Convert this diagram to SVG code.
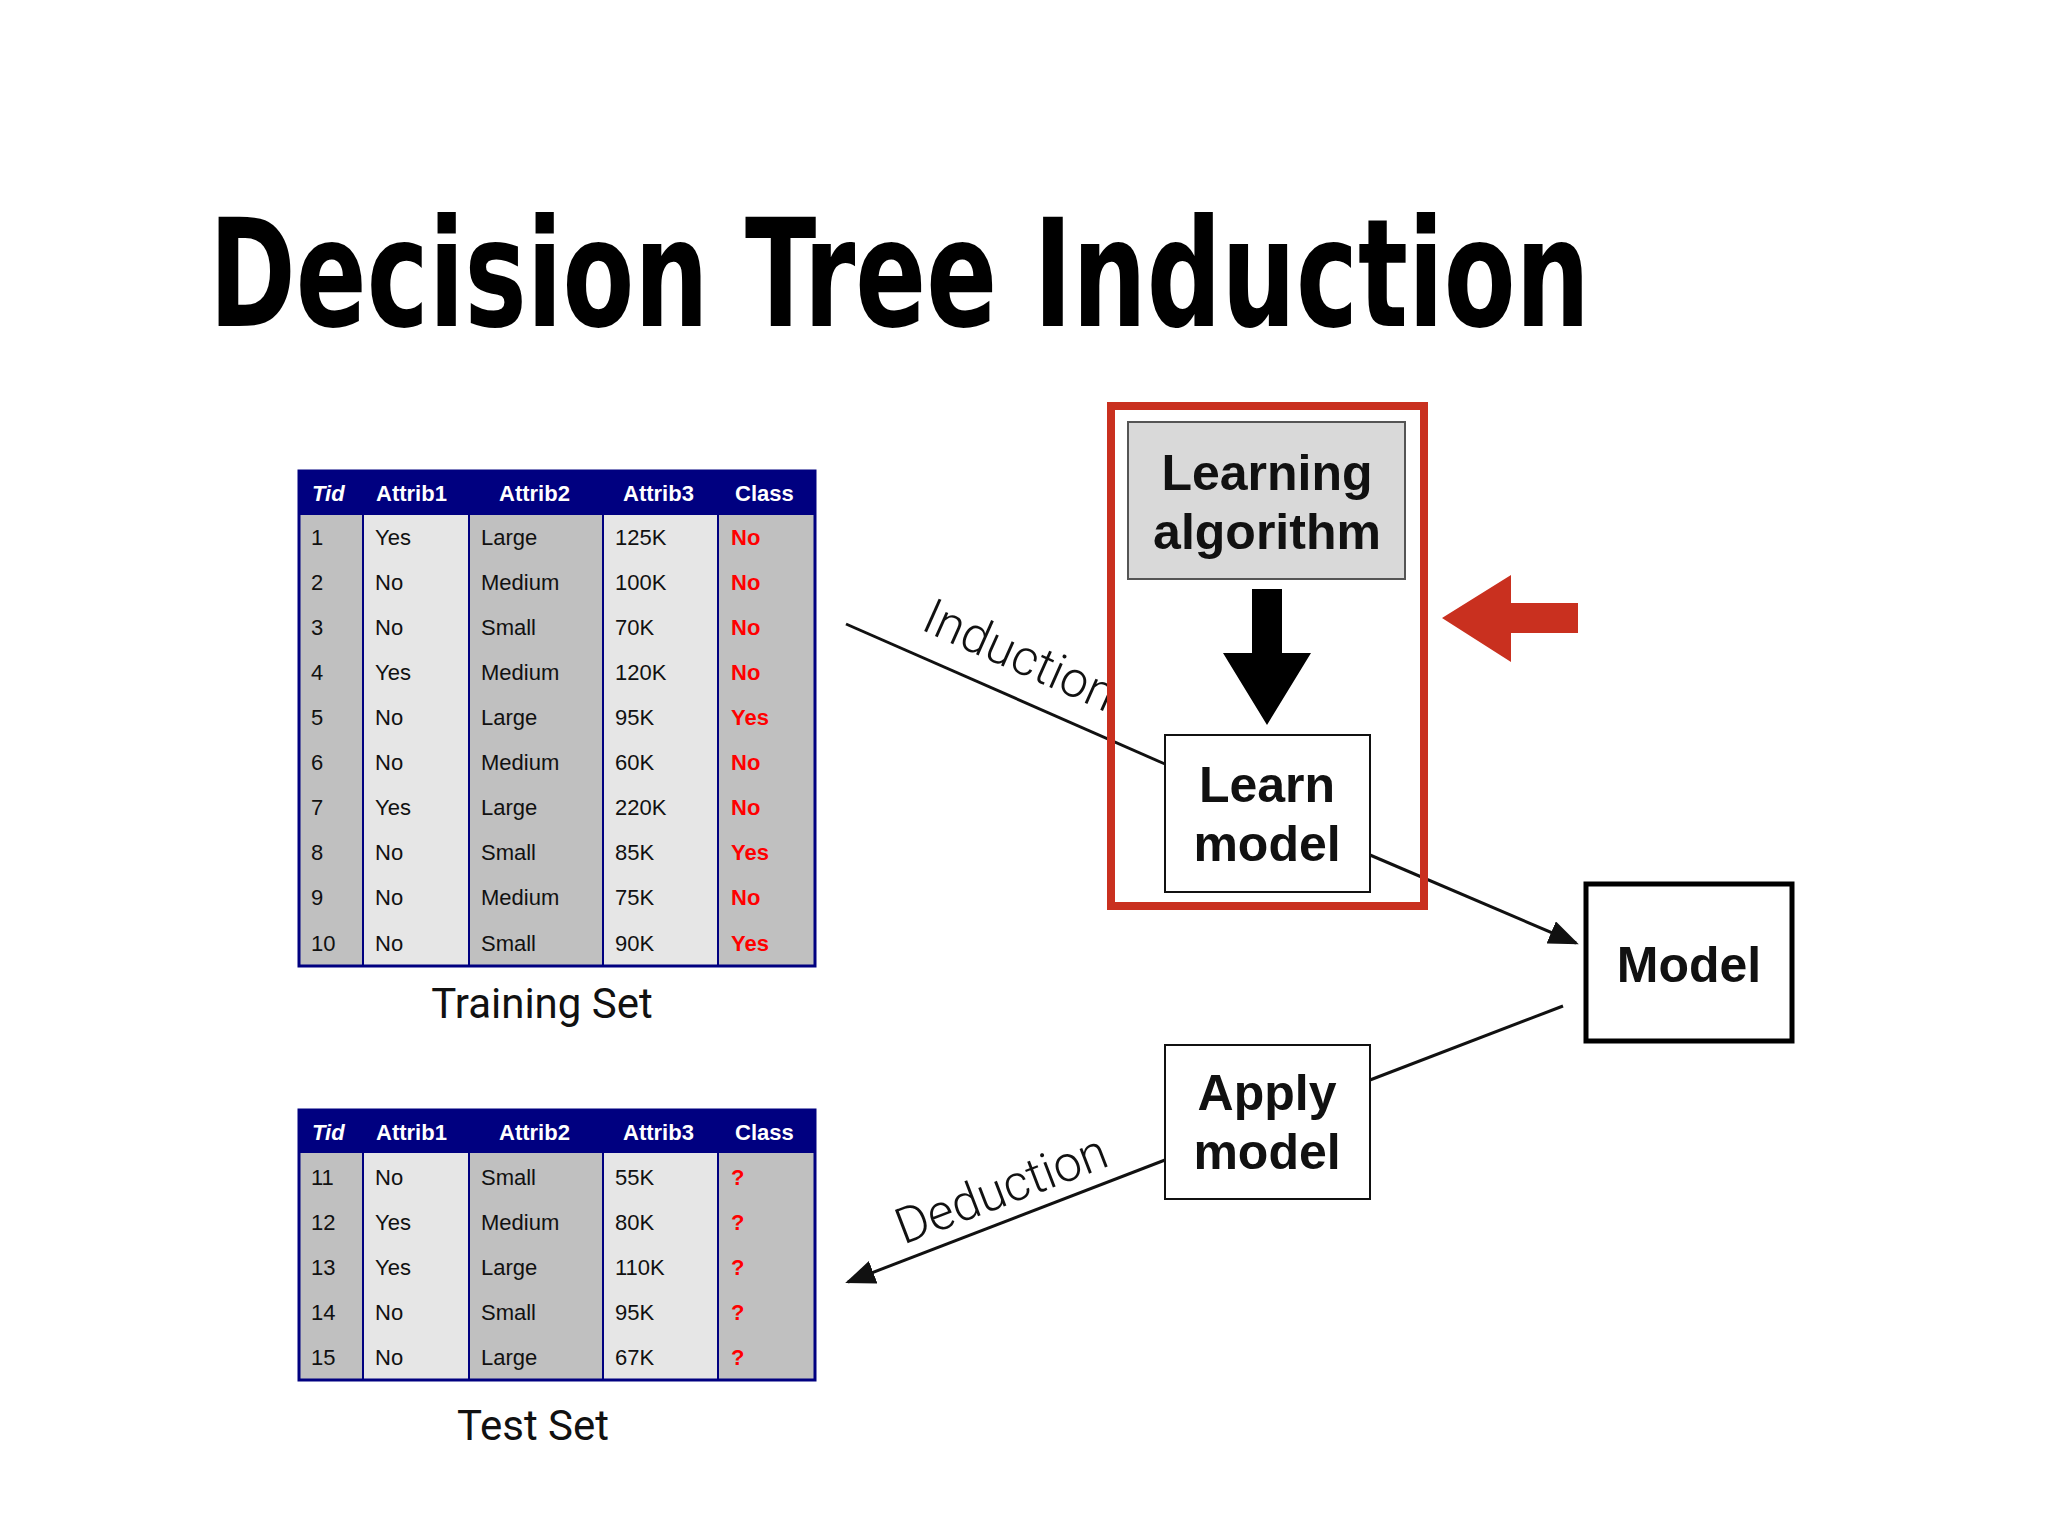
<svg xmlns="http://www.w3.org/2000/svg" width="2048" height="1536" viewBox="0 0 2048 1536">
<defs>
<style>
.h{font-family:"Liberation Sans",Arial,sans-serif;font-size:22px;font-weight:bold;fill:#fff}
.d{font-family:"Liberation Sans",Arial,sans-serif;font-size:22px;fill:#111}
.r{font-family:"Liberation Sans",Arial,sans-serif;font-size:22px;font-weight:bold;fill:#f00}
.g{fill:#c0c0c0}.l{fill:#e6e6e6}
.lbl{font-family:Roboto,"Liberation Sans",sans-serif;font-size:42px;fill:#111;text-anchor:middle}
.bx{font-family:"Liberation Sans",Arial,sans-serif;font-size:50px;font-weight:bold;fill:#111;text-anchor:middle}
.ln{stroke:#111;stroke-width:3;fill:none}
</style>
<marker id="ah" markerWidth="10" markerHeight="8" refX="9" refY="4" orient="auto" markerUnits="strokeWidth"><path d="M0,0L10,4L0,8z" fill="#111"/></marker>
</defs>
<rect width="2048" height="1536" fill="#fff"/>
<text x="209" y="326" font-family="DejaVu Sans Condensed,DejaVu Sans,sans-serif" font-weight="bold" font-size="150" textLength="1381" lengthAdjust="spacingAndGlyphs" fill="#000">Decision Tree Induction</text>

<g id="training">
<rect x="299" y="471" width="516" height="44" fill="#000080"/>
<rect x="299" y="515" width="64" height="451" class="g"/>
<rect x="363" y="515" width="106" height="451" class="l"/>
<rect x="469" y="515" width="134" height="451" class="g"/>
<rect x="603" y="515" width="115" height="451" class="l"/>
<rect x="718" y="515" width="97" height="451" class="g"/>
<path d="M363,515V966M469,515V966M603,515V966M718,515V966" stroke="#000080" stroke-width="2"/>
<rect x="299" y="471" width="516" height="495" fill="none" stroke="#000080" stroke-width="3"/>
<text class="h" y="501"><tspan x="312" font-style="italic">Tid</tspan><tspan x="376">Attrib1</tspan><tspan x="499">Attrib2</tspan><tspan x="623">Attrib3</tspan><tspan x="735">Class</tspan></text>
<g class="d">
<text y="545"><tspan x="311">1</tspan><tspan x="375">Yes</tspan><tspan x="481">Large</tspan><tspan x="615">125K</tspan></text>
<text y="590"><tspan x="311">2</tspan><tspan x="375">No</tspan><tspan x="481">Medium</tspan><tspan x="615">100K</tspan></text>
<text y="635"><tspan x="311">3</tspan><tspan x="375">No</tspan><tspan x="481">Small</tspan><tspan x="615">70K</tspan></text>
<text y="680"><tspan x="311">4</tspan><tspan x="375">Yes</tspan><tspan x="481">Medium</tspan><tspan x="615">120K</tspan></text>
<text y="725"><tspan x="311">5</tspan><tspan x="375">No</tspan><tspan x="481">Large</tspan><tspan x="615">95K</tspan></text>
<text y="770"><tspan x="311">6</tspan><tspan x="375">No</tspan><tspan x="481">Medium</tspan><tspan x="615">60K</tspan></text>
<text y="815"><tspan x="311">7</tspan><tspan x="375">Yes</tspan><tspan x="481">Large</tspan><tspan x="615">220K</tspan></text>
<text y="860"><tspan x="311">8</tspan><tspan x="375">No</tspan><tspan x="481">Small</tspan><tspan x="615">85K</tspan></text>
<text y="905"><tspan x="311">9</tspan><tspan x="375">No</tspan><tspan x="481">Medium</tspan><tspan x="615">75K</tspan></text>
<text y="951"><tspan x="311">10</tspan><tspan x="375">No</tspan><tspan x="481">Small</tspan><tspan x="615">90K</tspan></text>
</g>
<g class="r">
<text x="731" y="545">No</text><text x="731" y="590">No</text><text x="731" y="635">No</text><text x="731" y="680">No</text><text x="731" y="725">Yes</text><text x="731" y="770">No</text><text x="731" y="815">No</text><text x="731" y="860">Yes</text><text x="731" y="905">No</text><text x="731" y="951">Yes</text>
</g>
<text class="lbl" x="542" y="1018">Training Set</text>
</g>

<g id="test">
<rect x="299" y="1110" width="516" height="43" fill="#000080"/>
<rect x="299" y="1153" width="64" height="227" class="g"/>
<rect x="363" y="1153" width="106" height="227" class="l"/>
<rect x="469" y="1153" width="134" height="227" class="g"/>
<rect x="603" y="1153" width="115" height="227" class="l"/>
<rect x="718" y="1153" width="97" height="227" class="g"/>
<path d="M363,1153V1380M469,1153V1380M603,1153V1380M718,1153V1380" stroke="#000080" stroke-width="2"/>
<rect x="299" y="1110" width="516" height="270" fill="none" stroke="#000080" stroke-width="3"/>
<text class="h" y="1140"><tspan x="312" font-style="italic">Tid</tspan><tspan x="376">Attrib1</tspan><tspan x="499">Attrib2</tspan><tspan x="623">Attrib3</tspan><tspan x="735">Class</tspan></text>
<g class="d">
<text y="1185"><tspan x="311">11</tspan><tspan x="375">No</tspan><tspan x="481">Small</tspan><tspan x="615">55K</tspan></text>
<text y="1230"><tspan x="311">12</tspan><tspan x="375">Yes</tspan><tspan x="481">Medium</tspan><tspan x="615">80K</tspan></text>
<text y="1275"><tspan x="311">13</tspan><tspan x="375">Yes</tspan><tspan x="481">Large</tspan><tspan x="615">110K</tspan></text>
<text y="1320"><tspan x="311">14</tspan><tspan x="375">No</tspan><tspan x="481">Small</tspan><tspan x="615">95K</tspan></text>
<text y="1365"><tspan x="311">15</tspan><tspan x="375">No</tspan><tspan x="481">Large</tspan><tspan x="615">67K</tspan></text>
</g>
<g class="r">
<text x="731" y="1185">?</text><text x="731" y="1230">?</text><text x="731" y="1275">?</text><text x="731" y="1320">?</text><text x="731" y="1365">?</text>
</g>
<text class="lbl" x="533" y="1440">Test Set</text>
</g>

<g id="connectors">
<line class="ln" x1="846" y1="624" x2="1165" y2="764"/>
<line class="ln" x1="1370" y1="855" x2="1576" y2="943" marker-end="url(#ah)"/>
<line class="ln" x1="1563" y1="1006" x2="1370" y2="1080"/>
<line class="ln" x1="1165" y1="1160" x2="848" y2="1282" marker-end="url(#ah)"/>
<text x="1019" y="672" font-family="Roboto,'Liberation Sans',sans-serif" font-size="50" font-weight="300" fill="#111" text-anchor="middle" transform="rotate(24 1019 657)">Induction</text>
<text x="1002" y="1206" font-family="Roboto,'Liberation Sans',sans-serif" font-size="50" font-weight="300" fill="#111" text-anchor="middle" transform="rotate(-21 1002 1191)">Deduction</text>
</g>

<g id="highlight">
<rect x="1111" y="406" width="313" height="500" fill="none" stroke="#c9301f" stroke-width="8"/>
<path d="M1442,618L1511,575V603H1578V633H1511V662Z" fill="#c9301f"/>
</g>

<g id="learning-algorithm">
<rect x="1128" y="422" width="277" height="157" fill="#d9d9d9" stroke="#555" stroke-width="2"/>
<text class="bx" x="1267" y="490">Learning</text>
<text class="bx" x="1267" y="549">algorithm</text>
</g>
<path d="M1252,589H1282V653H1311L1267,725L1223,653H1252Z" fill="#000"/>

<g id="learn-model">
<rect x="1165" y="735" width="205" height="157" fill="#fff" stroke="#111" stroke-width="2"/>
<text class="bx" x="1267" y="802">Learn</text>
<text class="bx" x="1267" y="861">model</text>
</g>

<g id="model">
<rect x="1586" y="884" width="206" height="157" fill="#fff" stroke="#000" stroke-width="5"/>
<text class="bx" x="1689" y="982">Model</text>
</g>

<g id="apply-model">
<rect x="1165" y="1045" width="205" height="154" fill="#fff" stroke="#111" stroke-width="2"/>
<text class="bx" x="1267" y="1110">Apply</text>
<text class="bx" x="1267" y="1169">model</text>
</g>
</svg>
